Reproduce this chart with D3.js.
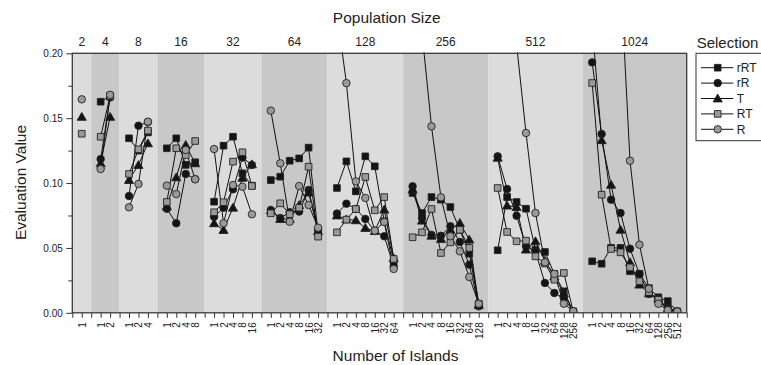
<!DOCTYPE html>
<html>
<head>
<meta charset="utf-8">
<script src="https://cdn.jsdelivr.net/npm/d3@7"></script>
<style>
  body { margin: 0; background: #fff; }
  text { font-family: "Liberation Sans", Arial, Helvetica, sans-serif; fill: #222; }
</style>
</head>
<body>
<svg id="chart" width="761" height="365"></svg>
<script>
// Population sizes (top axis groups)
const popSizes = ["2", "4", "8", "16", "32", "64", "128", "256", "512", "1024"];

// Number of islands tested for each population size (bottom axis labels)
const islandLabels = [
  ["1"],
  ["1", "2"],
  ["1", "2", "4"],
  ["1", "2", "4", "8"],
  ["1", "2", "4", "8", "16"],
  ["1", "2", "4", "8", "16", "32"],
  ["1", "2", "4", "8", "16", "32", "64"],
  ["1", "2", "4", "8", "16", "32", "64", "128"],
  ["1", "2", "4", "8", "16", "32", "64", "128", "256"],
  ["1", "2", "4", "8", "16", "32", "64", "128", "256", "512"]
];

// Evaluation values per selection scheme, one inner list per population size
const rRT = [
  [null],
  [0.1627, 0.167],
  [0.1345, 0.125, 0.139],
  [0.1268, 0.1345, 0.114, 0.116],
  [0.0856, 0.1288, 0.1357, 0.1075, 0.098],
  [0.1023, 0.1049, 0.1172, 0.119, 0.1273, 0.062],
  [0.0962, 0.1167, 0.0936, 0.1206, 0.1129, 0.0705, 0.040],
  [0.0923, 0.0769, 0.0892, 0.0872, 0.0815, 0.064, 0.0456, 0.006],
  [0.0482, 0.0892, 0.0854, 0.0802, 0.0487, 0.0469, 0.030, 0.0166, 0.001],
  [0.0397, 0.0378, 0.050, 0.050, 0.032, 0.030, 0.019, 0.012, 0.009, 0.001]
];
const rR = [
  [null],
  [0.1185, 0.166],
  [0.090, 0.1442, 0.147],
  [0.0802, 0.069, 0.107, 0.103],
  [0.074, 0.081, 0.0952, 0.1196, 0.114],
  [0.0792, 0.073, 0.0775, 0.078, 0.0946, 0.064],
  [0.0765, 0.0841, 0.080, 0.0723, 0.063, 0.059, 0.036],
  [0.0975, 0.073, 0.060, 0.0594, 0.0667, 0.0546, 0.0371, 0.005],
  [0.1206, 0.0954, 0.0748, 0.0512, 0.047, 0.023, 0.0153, 0.0114, 0.001],
  [0.193, 0.1378, 0.0872, 0.0769, 0.0494, 0.030, 0.0145, 0.010, 0.004, 0.001]
];
const T = [
  [0.151],
  [0.1152, 0.151],
  [0.1023, 0.1139, 0.1306],
  [0.082, 0.1044, 0.1293, 0.1152],
  [0.069, 0.0638, 0.081, 0.104, 0.1144],
  [0.079, 0.0723, 0.0723, 0.083, 0.0926, 0.063],
  [0.075, 0.072, 0.0713, 0.0654, 0.063, 0.0795, 0.042],
  [0.095, 0.071, 0.0594, 0.0569, 0.064, 0.0692, 0.0564, 0.006],
  [0.1195, 0.0826, 0.0815, 0.0487, 0.0551, 0.040, 0.028, 0.015, 0.001],
  [0.222, 0.133, 0.0987, 0.064, 0.0389, 0.0217, 0.015, 0.011, 0.003, 0.001]
];
const RT = [
  [0.138],
  [0.1357, 0.167],
  [0.107, 0.126, 0.1404],
  [0.0854, 0.1268, 0.1216, 0.1324],
  [0.0775, 0.0852, 0.1165, 0.1237, 0.0977],
  [0.0767, 0.0844, 0.076, 0.081, 0.1126, 0.0587],
  [0.062, 0.0718, 0.080, 0.1047, 0.079, 0.0892, 0.0415],
  [0.0582, 0.062, 0.080, 0.0461, 0.0543, 0.064, 0.050, 0.007],
  [0.0962, 0.0623, 0.0551, 0.0556, 0.0435, 0.038, 0.0255, 0.0307, 0.001],
  [0.1771, 0.091, 0.0492, 0.0466, 0.035, 0.0243, 0.016, 0.010, 0.002, 0.001]
];
const R = [
  [0.1645],
  [0.1108, 0.168],
  [0.0813, 0.0993, 0.1473],
  [0.098, 0.0915, 0.1255, 0.1029],
  [0.1262, 0.069, 0.0985, 0.0972, 0.0759],
  [0.1558, 0.1152, 0.0702, 0.0977, 0.0831, 0.0656],
  [0.231, 0.177, 0.1013, 0.0885, 0.0633, 0.070, 0.0338],
  [0.30, 0.2157, 0.1437, 0.089, 0.059, 0.0474, 0.0276, 0.007],
  [0.32, 0.27, 0.207, 0.1386, 0.0769, 0.0389, 0.030, 0.007, 0.0012],
  [0.40, 0.34, 0.30, 0.26, 0.1172, 0.0525, 0.0185, 0.007, 0.002, 0.001]
];

const seriesNames = ["rRT", "rR", "T", "RT", "R"];
const seriesValues = [rRT, rR, T, RT, R];
const yTicks = [0, 0.05, 0.10, 0.15, 0.20];
const yMinorTicks = [0.025, 0.075, 0.125, 0.175];

// ---- styling per series ----
const markerStyle = {
  rRT: { shape: d3.symbolSquare, size: 44, fill: "#141414" },
  rR:  { shape: d3.symbolCircle, size: 44, fill: "#141414" },
  T:   { shape: d3.symbolTriangle, size: 36, fill: "#141414" },
  RT:  { shape: d3.symbolSquare, size: 44, fill: "#9a9a9a" },
  R:   { shape: d3.symbolCircle, size: 44, fill: "#9a9a9a" }
};

const svg = d3.select("#chart");
const plot = { left: 72.3, right: 686.7, top: 53.3, bottom: 312.8 };

// Each population group occupies (n + 1) slots: one padding slot plus n points
let slotCursor = 0;
const groups = popSizes.map((p, g) => {
  const n = islandLabels[g].length;
  const start = slotCursor;
  slotCursor += n + 1;
  return { pop: p, g, n, start, end: start + n + 1 };
});
const totalSlots = slotCursor;

const x = d3.scaleLinear().domain([0, totalSlots]).range([plot.left, plot.right]);
const y = d3.scaleLinear().domain([0, 0.2]).range([plot.bottom, plot.top]);

// Alternating background bands
svg.append("g").selectAll("rect")
  .data(groups)
  .join("rect")
  .attr("x", d => x(d.start))
  .attr("y", plot.top)
  .attr("width", d => x(d.end) - x(d.start))
  .attr("height", plot.bottom - plot.top)
  .attr("fill", d => d.g % 2 === 0 ? "#dcdcdd" : "#c8c8c8");

// Clip region for data
svg.append("clipPath").attr("id", "plotClip")
  .append("rect")
  .attr("x", plot.left).attr("y", plot.top - 1)
  .attr("width", plot.right - plot.left).attr("height", plot.bottom - plot.top + 1);

// Slot -> island label lookup for the bottom axis
const slotLabel = new Map();
groups.forEach(gr => islandLabels[gr.g].forEach((lab, i) => slotLabel.set(gr.start + 1 + i, lab)));

// Bottom axis: ticks on every slot, labels on data slots
const xAxis = d3.axisBottom(x)
  .tickValues(d3.range(0, totalSlots + 1))
  .tickSize(5)
  .tickSizeOuter(0)
  .tickFormat(d => slotLabel.get(d) || "");
const gx = svg.append("g")
  .attr("transform", `translate(0,${plot.bottom})`)
  .call(xAxis);
gx.select(".domain").remove();
gx.selectAll(".tick line").attr("stroke", "#333").attr("stroke-width", 1);
gx.selectAll(".tick text")
  .attr("transform", "rotate(-90)")
  .attr("x", -9.5)
  .attr("y", 0)
  .attr("dy", "0.35em")
  .style("text-anchor", "end")
  .style("font-size", "10px")
  .style("font-family", "'Liberation Sans', Arial, sans-serif")
  .attr("fill", "#222");

// Left axis
const gy = svg.append("g")
  .attr("transform", `translate(${plot.left},0)`)
  .call(d3.axisLeft(y).tickValues(yTicks).tickFormat(d3.format(".2f")).tickSize(6).tickSizeOuter(0).tickPadding(3.5));
gy.select(".domain").remove();
gy.selectAll(".tick line").attr("stroke", "#333").attr("stroke-width", 1);
gy.selectAll(".tick text")
  .style("font-size", "10px")
  .style("font-family", "'Liberation Sans', Arial, sans-serif")
  .attr("fill", "#222");

const gyMinor = svg.append("g")
  .attr("transform", `translate(${plot.left},0)`)
  .call(d3.axisLeft(y).tickValues(yMinorTicks).tickFormat("").tickSize(4).tickSizeOuter(0));
gyMinor.select(".domain").remove();
gyMinor.selectAll(".tick line").attr("stroke", "#333").attr("stroke-width", 1);

// Population size labels above the plot
svg.append("g").selectAll("text")
  .data(groups)
  .join("text")
  .attr("x", d => x((d.start + d.end) / 2))
  .attr("y", 45.7)
  .attr("text-anchor", "middle")
  .style("font-size", "12px")
  .text(d => d.pop);

// Data lines and markers, one segment per population group
const dataLayer = svg.append("g").attr("clip-path", "url(#plotClip)");
const line = d3.line()
  .defined(d => d.v !== null)
  .x(d => x(d.slot))
  .y(d => y(d.v));

const seriesPoints = seriesNames.map((name, s) => ({
  name,
  segments: groups.map(gr => seriesValues[s][gr.g].map((v, i) => ({ slot: gr.start + 1 + i, v })))
}));

seriesPoints.forEach(sp => {
  sp.segments.forEach(seg => {
    dataLayer.append("path")
      .datum(seg)
      .attr("d", line)
      .attr("fill", "none")
      .attr("stroke", "#111")
      .attr("stroke-width", 1);
  });
});

seriesPoints.forEach(sp => {
  const st = markerStyle[sp.name];
  const sym = d3.symbol().type(st.shape).size(st.size);
  const pts = sp.segments.flat().filter(d => d.v !== null);
  dataLayer.append("g").selectAll("path")
    .data(pts)
    .join("path")
    .attr("transform", d => `translate(${x(d.slot)},${y(d.v) + (sp.name === "T" ? 0.8 : 0)})`)
    .attr("d", sym)
    .attr("fill", st.fill)
    .attr("stroke", "#222")
    .attr("stroke-width", 0.9);
});

// Plot frame
svg.append("rect")
  .attr("x", plot.left).attr("y", plot.top)
  .attr("width", plot.right - plot.left).attr("height", plot.bottom - plot.top)
  .attr("fill", "none")
  .attr("stroke", "#3a3a3a")
  .attr("stroke-width", 1.3);

// Axis titles
svg.append("text")
  .attr("x", 386.7).attr("y", 23.3)
  .attr("text-anchor", "middle")
  .style("font-size", "15.5px")
  .text("Population Size");

svg.append("text")
  .attr("x", 395.5).attr("y", 361)
  .attr("text-anchor", "middle")
  .style("font-size", "15.5px")
  .text("Number of Islands");

svg.append("text")
  .attr("transform", "translate(26,182.5) rotate(-90)")
  .attr("text-anchor", "middle")
  .style("font-size", "15.5px")
  .text("Evaluation Value");

// Legend
const legend = svg.append("g");
legend.append("text")
  .attr("x", 696.7).attr("y", 47.5)
  .style("font-size", "15px")
  .text("Selection");
legend.append("rect")
  .attr("x", 696).attr("y", plot.top)
  .attr("width", 80).attr("height", 87.4)
  .attr("fill", "#fff")
  .attr("stroke", "#333")
  .attr("stroke-width", 1);

const legendRow = d3.scaleLinear().domain([0, 4]).range([67.7, 129.3]);
seriesNames.forEach((name, i) => {
  const st = markerStyle[name];
  const cy = legendRow(i);
  legend.append("line")
    .attr("x1", 701).attr("x2", 733.3)
    .attr("y1", cy).attr("y2", cy)
    .attr("stroke", "#111").attr("stroke-width", 1);
  legend.append("path")
    .attr("transform", `translate(717.7,${cy + (name === "T" ? 0.8 : 0)})`)
    .attr("d", d3.symbol().type(st.shape).size(st.size))
    .attr("fill", st.fill)
    .attr("stroke", "#222")
    .attr("stroke-width", 0.9);
  legend.append("text")
    .attr("x", 736.7).attr("y", cy)
    .attr("dy", "0.36em")
    .style("font-size", "12px")
    .text(name);
});
</script>
</body>
</html>
